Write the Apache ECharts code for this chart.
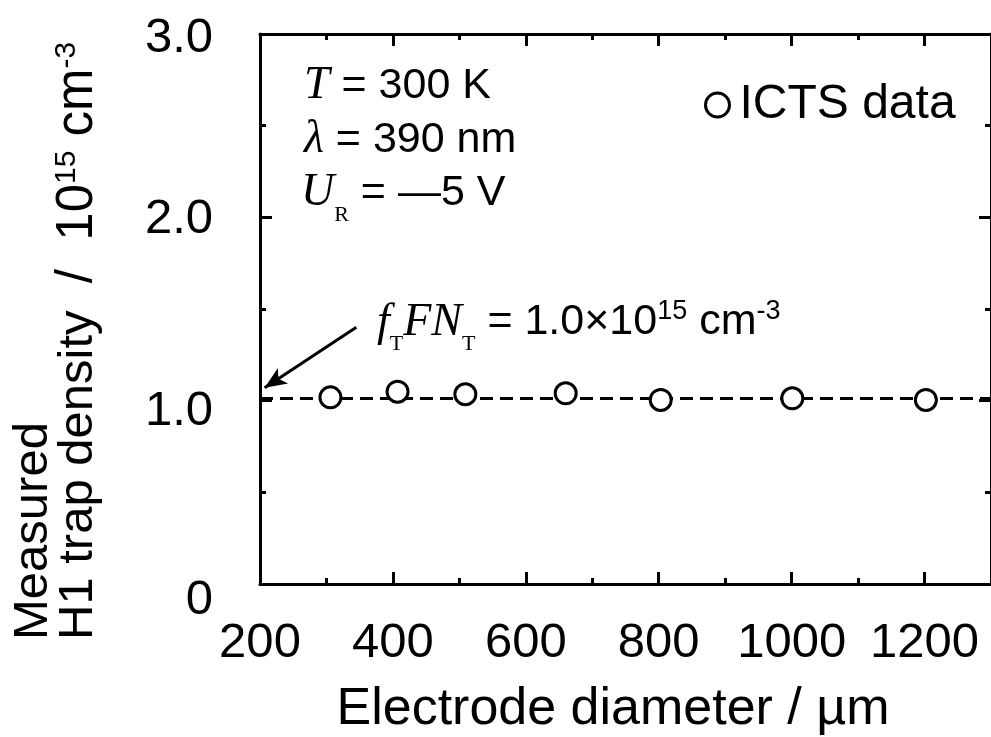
<!DOCTYPE html>
<html>
<head>
<meta charset="utf-8">
<script src="https://cdn.jsdelivr.net/npm/echarts@6/dist/echarts.min.js"></script>
<style>html,body{margin:0;padding:0;background:#fff}#c{width:991px;height:737px}</style>
</head>
<body>
<div id="c"></div>
<script>
// ---- data ----
var diameters = [306, 407, 509, 660, 803, 1001, 1202];
var densities = [1.018, 1.049, 1.035, 1.040, 1.004, 1.013, 1.004];
var refLevel = 1.015;
var arrowStart = [345, 1.40];
var arrowEnd = [207, 1.07];
var yTickLabels = {0: '0', 1: '1.0', 2: '2.0', 3: '3.0'};
var yLabelShift = {0: 32, 1: 22, 2: 4, 3: 8};

var SANS = '"Liberation Sans", Arial, sans-serif';
var SERIF = '"Liberation Serif", "Times New Roman", serif';

var chart = echarts.init(document.getElementById('c'));
var yRich = {};
Object.keys(yLabelShift).forEach(function (k) {
  yRich['s' + k] = {fontSize: 49, fontFamily: SANS, color: '#000', padding: [yLabelShift[k], 0, 0, 0]};
});

var axisLineStyle = {color: '#000', width: 3};
function xAx(pos, showLabel) {
  return {
    type: 'value', position: pos, min: 200, max: 1300, interval: 200,
    axisLine: {show: true, onZero: false, lineStyle: axisLineStyle},
    axisTick: {show: true, inside: true, length: 12, lineStyle: {color: '#000', width: 3}},
    minorTick: {show: true, splitNumber: 2, length: 6, lineStyle: {color: '#000', width: 3}},
    splitLine: {show: false},
    axisLabel: {show: showLabel, margin: 35, fontSize: 49, fontFamily: SANS, color: '#000', showMaxLabel: false,
      formatter: function (v) { return String(v); }}
  };
}
function yAx(pos, showLabel) {
  return {
    type: 'value', position: pos, min: 0, max: 3, interval: 1,
    axisLine: {show: true, onZero: false, lineStyle: axisLineStyle},
    axisTick: {show: true, inside: true, length: 12, lineStyle: {color: '#000', width: 3}},
    minorTick: {show: true, splitNumber: 2, length: 6, lineStyle: {color: '#000', width: 3}},
    splitLine: {show: false},
    axisLabel: {show: showLabel, margin: 47, color: '#000',
      formatter: function (v) { var k = Math.round(v); return '{s' + k + '|' + yTickLabels[k] + '}'; },
      rich: yRich}
  };
}

var richAnn = {
  i: {fontFamily: SERIF, fontStyle: 'italic', fontSize: 46, fill: '#000'},
  n: {fontFamily: SANS, fontSize: 43, fill: '#000'},
  sub: {fontFamily: SERIF, fontSize: 22, fill: '#000', padding: [44, 0, 0, 0]},
  sup: {fontFamily: SANS, fontSize: 27, fill: '#000', padding: [0, 0, 22, 0]}
};

var option = {
  animation: false,
  backgroundColor: '#fff',
  textStyle: {fontFamily: SANS},
  grid: {left: 260, top: 34, width: 733, height: 550},
  xAxis: [xAx('bottom', true), xAx('top', false)],
  yAxis: [yAx('left', true), yAx('right', false)],
  legend: {
    left: 699, top: 76, itemWidth: 24, itemHeight: 24, itemGap: 10,
    data: [{name: 'ICTS data', icon: 'circle'}],
    textStyle: {fontSize: 48, fontFamily: SANS, color: '#000', padding: [0, 0, 0, 5]},
    itemStyle: {color: '#fff', borderColor: '#000', borderWidth: 3}
  },
  series: [
    {
      name: 'ICTS data', type: 'scatter', xAxisIndex: 0, yAxisIndex: 0,
      data: diameters.map(function (d, i) { return [d, densities[i]]; }),
      symbol: 'circle', symbolSize: 21,
      itemStyle: {color: '#fff', borderColor: '#000', borderWidth: 3, opacity: 1},
      z: 5,
      markLine: {
        silent: true, animation: false, symbol: ['none', 'none'],
        label: {show: false},
        lineStyle: {color: '#000', width: 3, type: [13, 7]},
        data: [
          [{coord: [200, refLevel]}, {coord: [1300, refLevel]}],
          [{coord: arrowStart, symbol: 'none'}, {coord: arrowEnd, symbol: 'arrow', symbolSize: [14, 22], lineStyle: {type: 'solid', width: 3}}]
        ]
      }
    }
  ],
  graphic: [
    {type: 'text', left: 304, top: 63, style: {rich: richAnn, text: '{i|T}{n| = 300 K}'}},
    {type: 'text', left: 304, top: 117, style: {rich: richAnn, text: '{i|λ}{n| = 390 nm}'}},
    {type: 'text', left: 301, top: 170, style: {rich: richAnn, text: '{i|U}{sub|R}{n| = —5 V}'}},
    {type: 'text', left: 377, top: 298, style: {rich: richAnn,
      text: '{i|f}{sub|T}{i|FN}{sub|T}{n| = 1.0×10}{sup|15}{n| cm}{sup|-3}'}},
    {type: 'text', x: 613, y: 710, style: {
      text: 'Electrode diameter / µm', font: '52px ' + SANS, fill: '#000', align: 'center', verticalAlign: 'middle'}},
    {type: 'text', x: 33, y: 640, rotation: Math.PI / 2, style: {
      text: 'Measured', font: '49px ' + SANS, fill: '#000', align: 'left', verticalAlign: 'middle'}},
    {type: 'text', x: 78, y: 640, rotation: Math.PI / 2, style: {
      rich: {n: {fontFamily: SANS, fontSize: 49, fill: '#000'},
        u: {fontFamily: SANS, fontSize: 51, fill: '#000'},
        sup: {fontFamily: SANS, fontSize: 30, fill: '#000', padding: [0, 0, 22, 0]}},
      text: '{n|H1 trap density  }{u|/  10}{sup|15}{u| cm}{sup|-3}', align: 'left', verticalAlign: 'middle'}}
  ]
};
chart.setOption(option);
</script>
</body>
</html>
